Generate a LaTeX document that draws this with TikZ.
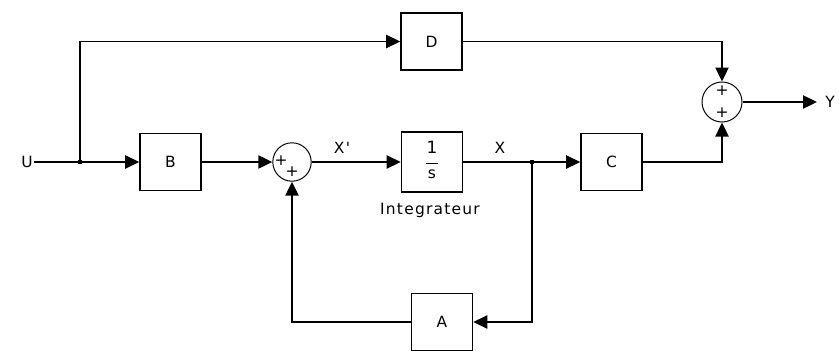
\documentclass[tikz,border=0pt]{standalone}
\usepackage{fontspec}
\setmainfont{DejaVu Sans}
\newfontfamily\etiq[LetterSpace=8]{DejaVu Sans}
\usetikzlibrary{arrows.meta}
\begin{document}
\begin{tikzpicture}[x=0.025cm,y=0.025cm,
        bloc/.style={draw,line width=1.1pt,minimum width=1.525cm,minimum height=1.425cm,inner sep=0pt,font=\etiq\fontsize{11}{13}\selectfont},
        somme/.style={draw,circle,line width=0.7pt,minimum size=0.96cm,inner sep=0pt},
        signe/.style={inner sep=0pt,font=\fontsize{11}{13}\selectfont},
        texte/.style={inner sep=1pt,font=\etiq\fontsize{11}{13}\selectfont},
        noeud/.style={fill,inner sep=0pt,minimum size=0.11cm},
        fleche/.style={line width=1.1pt,-{Triangle[length=0.35cm,width=0.33cm]}},
        trait/.style={line width=1.1pt}]
    \useasboundingbox (0,0) rectangle (839,351);

    % entree et branche directe
    \node[texte] (U) at (27,189) {U};
    \node[noeud] (J1) at (80,189) {};
    \node[bloc] (B) at (170.5,189) {B};
    \node[bloc] (D) at (431.5,309.5) {D};

    % boucle de l'integrateur
    \node[somme] (S1) at (292,189) {};
    \node[signe] (S1a) at (281,190) {+};
    \node[signe] (S1b) at (292,179) {+};
    \node[bloc,minimum height=1.5cm] (Int) at (432,189)
        {\begin{tabular}{@{}c@{}}\fontsize{12}{14}\selectfont 1\\[-5pt]\rule{0.3cm}{0.9pt}\\[-3pt]s\end{tabular}};
    \node[texte] (IntTxt) at (430,141) {Integrateur};
    \node[texte] (Xp) at (342,203) {X'};
    \node[texte] (X) at (500,203) {X};
    \node[noeud] (J2) at (532,189) {};
    \node[bloc] (C) at (611.5,189) {C};
    \node[bloc] (A) at (442,29) {A};

    % sortie
    \node[somme,minimum size=1cm] (S2) at (722,249) {};
    \node[signe] (S2a) at (722,260) {+};
    \node[signe] (S2b) at (722,238) {+};
    \coordinate (Yend) at (817,249);
    \node[texte,inner sep=0pt,anchor=west] (Y) at (825,249) {Y};

    \draw[trait] (U) -- (J1);
    \draw[fleche] (J1) -- (B);
    \draw[fleche] (J1) |- (D);
    \draw[fleche] (B) -- (S1);
    \draw[fleche] (S1) -- (Int);
    \draw[trait] (Int) -- (J2);
    \draw[fleche] (J2) -- (C);
    \draw[fleche] (J2) |- (A);
    \draw[fleche] (A) -| (S1);
    \draw[fleche] (C) -| (S2);
    \draw[fleche] (D) -| (S2);
    \draw[fleche] (S2) -- (Yend);
\end{tikzpicture}
\end{document}
